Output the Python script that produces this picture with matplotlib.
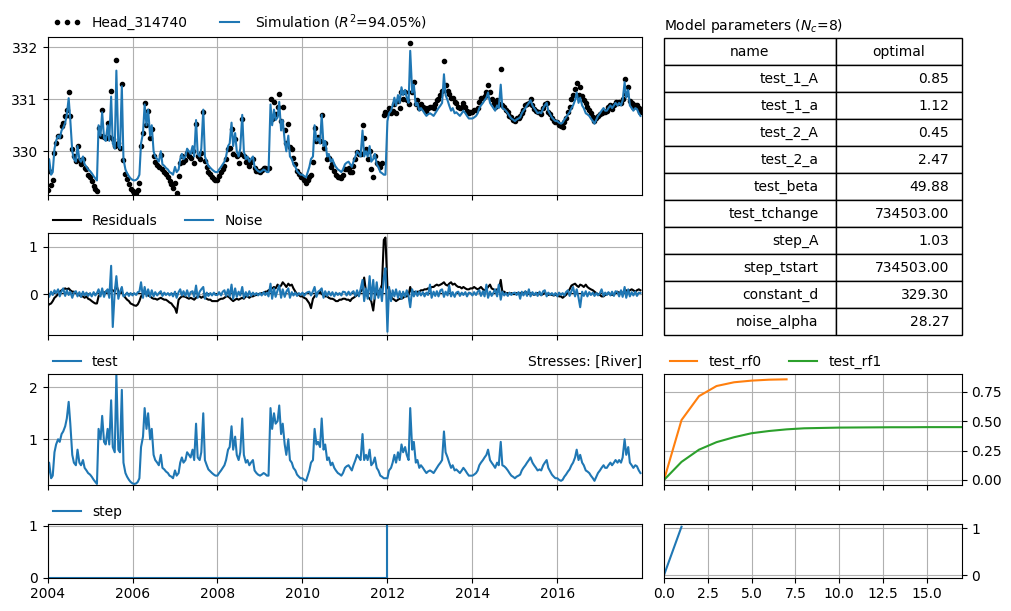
import numpy as np
import pandas as pd
import matplotlib
matplotlib.use("Agg")
import matplotlib.pyplot as plt
import matplotlib.dates as mdates

# half-monthly samples (1st and 15th of each month), 2004 - 2017
dates = pd.date_range("2004-01-01", periods=336, freq="SMS")

# contribution of the "test" stressmodel (River), one row per year
test_contrib = np.array([
    0.20, 0.55, 0.25, 0.30, 0.75, 0.90, 1.00, 0.95, 1.10, 1.15, 1.25, 1.40, 1.72, 1.30, 0.70, 0.55, 0.50, 0.80, 0.55, 0.50, 0.60, 0.45, 0.40, 0.35,
    0.32, 0.28, 0.22, 0.18, 0.14, 1.20, 1.00, 1.45, 0.95, 0.90, 1.20, 0.90, 1.75, 0.85, 0.75, 2.25, 0.80, 0.75, 1.95, 0.55, 0.35, 0.28, 0.22, 0.18,
    0.15, 0.14, 0.15, 0.18, 0.25, 0.85, 1.05, 1.60, 1.20, 1.50, 1.00, 1.20, 0.70, 0.60, 0.55, 0.50, 0.70, 0.45, 0.42, 0.38, 0.35, 0.30, 0.28, 0.25,
    0.40, 0.30, 0.35, 0.55, 0.65, 0.55, 0.60, 0.75, 0.70, 0.65, 0.80, 0.60, 1.30, 0.65, 0.60, 0.75, 1.50, 0.60, 0.50, 0.42, 0.38, 0.35, 0.32, 0.30,
    0.30, 0.35, 0.40, 0.45, 0.50, 0.60, 0.80, 0.85, 1.25, 0.80, 1.05, 0.70, 0.60, 0.75, 1.40, 0.70, 0.55, 0.60, 0.50, 0.55, 0.60, 0.40, 0.35, 0.32,
    0.30, 0.32, 0.35, 0.33, 0.30, 0.30, 1.60, 1.20, 1.50, 1.30, 1.35, 1.65, 1.10, 1.30, 0.90, 0.70, 1.00, 0.60, 0.55, 0.45, 0.40, 0.32, 0.28, 0.25,
    0.25, 0.22, 0.20, 0.30, 0.40, 0.55, 0.60, 1.20, 0.90, 0.95, 0.85, 1.40, 0.80, 0.90, 0.60, 0.65, 0.50, 0.55, 0.45, 0.40, 0.35, 0.33, 0.30, 0.35,
    0.45, 0.48, 0.50, 0.45, 0.40, 0.50, 0.60, 0.70, 0.65, 0.60, 1.10, 0.60, 0.70, 0.60, 0.80, 0.50, 0.55, 0.65, 0.45, 0.40, 0.30, 0.28, 0.25, 0.25,
    0.25, 0.40, 0.45, 0.55, 0.70, 0.55, 0.75, 0.60, 0.90, 0.75, 0.85, 0.70, 0.60, 1.60, 0.80, 0.95, 0.55, 0.60, 0.45, 0.50, 0.45, 0.40, 0.35, 0.38,
    0.40, 0.38, 0.35, 0.40, 0.45, 0.50, 0.55, 0.60, 1.15, 0.75, 0.65, 0.55, 0.45, 0.50, 0.40, 0.42, 0.38, 0.35, 0.40, 0.45, 0.40, 0.35, 0.30, 0.30,
    0.30, 0.32, 0.35, 0.40, 0.50, 0.55, 0.60, 0.65, 0.70, 0.80, 0.60, 0.55, 0.50, 0.45, 0.55, 0.50, 0.95, 0.50, 0.48, 0.45, 0.40, 0.35, 0.30, 0.28,
    0.25, 0.28, 0.30, 0.32, 0.40, 0.45, 0.50, 0.55, 0.60, 0.65, 0.55, 0.50, 0.45, 0.40, 0.42, 0.40, 0.50, 0.55, 0.60, 0.45, 0.38, 0.32, 0.28, 0.25,
    0.25, 0.22, 0.20, 0.22, 0.28, 0.32, 0.38, 0.42, 0.50, 0.55, 0.65, 0.80, 0.60, 0.70, 0.55, 0.50, 0.40, 0.38, 0.35, 0.30, 0.25, 0.20, 0.28, 0.35,
    0.40, 0.45, 0.50, 0.45, 0.45, 0.50, 0.55, 0.50, 0.55, 0.60, 0.55, 0.60, 0.55, 0.65, 1.00, 0.70, 0.85, 0.55, 0.50, 0.45, 0.50, 0.48, 0.40, 0.35,
])

# residuals (observed - simulated), one row per year
residuals = np.array([
    -0.25, -0.22, -0.20, -0.15, -0.08, -0.05, 0.00, 0.05, 0.08, 0.10, 0.12, 0.10, 0.12, 0.08, 0.05, 0.05, 0.02, 0.00, -0.02, -0.05, -0.05, -0.08, -0.05, -0.10,
    -0.12, -0.15, -0.18, -0.20, -0.20, -0.05, 0.00, 0.05, 0.02, 0.05, 0.05, 0.08, 0.10, 0.08, 0.05, 0.20, 0.05, 0.02, 0.05, -0.02, -0.08, -0.12, -0.15, -0.20,
    -0.22, -0.24, -0.25, -0.22, -0.15, -0.05, 0.00, 0.02, 0.00, -0.03, -0.05, -0.08, -0.10, -0.10, -0.12, -0.10, -0.08, -0.10, -0.12, -0.12, -0.15, -0.18, -0.20, -0.25,
    -0.30, -0.40, -0.12, -0.08, -0.05, -0.05, -0.06, -0.08, -0.10, -0.08, -0.10, -0.12, -0.08, -0.05, -0.05, -0.08, -0.05, -0.08, -0.10, -0.12, -0.12, -0.15, -0.15, -0.15,
    -0.15, -0.12, -0.10, -0.10, -0.08, -0.05, -0.05, -0.08, -0.12, -0.15, -0.12, -0.10, -0.12, -0.10, -0.08, -0.10, -0.05, -0.05, -0.08, -0.05, -0.05, -0.03, -0.02, 0.00,
    0.00, 0.02, 0.02, 0.05, 0.05, 0.08, 0.10, 0.12, 0.15, 0.12, 0.20, 0.15, 0.18, 0.25, 0.20, 0.15, 0.22, 0.18, 0.20, 0.12, 0.05, 0.00, -0.02, -0.05,
    -0.05, -0.08, -0.10, -0.15, -0.20, -0.30, -0.10, -0.05, 0.00, 0.02, 0.05, 0.00, -0.03, -0.05, -0.05, -0.08, -0.10, -0.10, -0.12, -0.15, -0.15, -0.12, -0.12, -0.10,
    -0.10, -0.12, -0.12, -0.15, -0.10, -0.08, -0.05, -0.02, 0.00, 0.05, 0.10, 0.35, 0.05, -0.05, -0.10, -0.15, -0.35, -0.05, 0.02, 0.05, 0.10, 0.20, 1.15, 1.20,
    0.15, 0.10, -0.05, -0.10, -0.12, -0.15, -0.12, -0.10, -0.10, -0.08, -0.05, -0.05, -0.02, 0.15, 0.00, 0.05, 0.02, 0.05, 0.05, 0.08, 0.08, 0.10, 0.10, 0.12,
    0.12, 0.15, 0.15, 0.18, 0.20, 0.18, 0.20, 0.22, 0.25, 0.20, 0.18, 0.22, 0.25, 0.20, 0.22, 0.18, 0.15, 0.15, 0.12, 0.15, 0.12, 0.10, 0.10, 0.12,
    0.12, 0.15, 0.12, 0.10, 0.12, 0.15, 0.10, 0.08, 0.10, 0.15, 0.20, 0.12, 0.10, 0.08, 0.10, 0.08, 0.30, 0.05, 0.05, 0.02, 0.02, 0.00, 0.02, 0.00,
    0.00, 0.02, 0.00, 0.02, 0.00, 0.02, 0.05, 0.02, 0.00, 0.02, 0.00, -0.02, 0.00, 0.02, 0.00, -0.02, 0.00, 0.02, 0.00, -0.02, 0.00, -0.02, -0.03, -0.02,
    -0.02, -0.05, -0.05, -0.08, -0.05, -0.02, 0.05, 0.10, 0.18, 0.20, 0.22, 0.18, 0.15, 0.20, 0.18, 0.15, 0.20, 0.15, 0.12, 0.10, 0.08, 0.05, 0.02, 0.00,
    -0.02, -0.05, -0.05, -0.02, 0.00, 0.02, 0.00, -0.02, 0.00, 0.02, 0.05, 0.02, 0.05, 0.02, 0.05, 0.08, 0.05, 0.08, 0.10, 0.08, 0.05, 0.08, 0.10, 0.08,
])

# noise model output, one row per year
noise = np.array([
    0.03, -0.06, 0.05, -0.02, 0.08, 0.02, 0.10, -0.05, 0.06, 0.12, -0.04, 0.08, -0.02, 0.05, -0.08, 0.03, 0.06, -0.05, 0.04, -0.06, 0.05, -0.03, 0.03, -0.04,
    0.02, -0.05, 0.04, -0.03, 0.02, 0.10, -0.05, 0.12, -0.06, 0.05, 0.10, -0.08, 0.60, -0.70, 0.05, 0.38, -0.10, 0.05, 0.15, -0.05, -0.02, 0.03, -0.04, 0.02,
    -0.03, 0.02, -0.02, 0.04, 0.05, 0.25, -0.08, 0.15, -0.05, 0.10, -0.06, 0.08, -0.05, 0.04, -0.03, 0.02, 0.06, -0.04, 0.03, -0.02, 0.02, -0.03, 0.02, -0.05,
    0.05, -0.08, 0.04, 0.10, -0.03, 0.06, -0.04, 0.08, -0.05, 0.04, 0.06, -0.06, 0.18, -0.08, 0.05, 0.10, 0.15, -0.10, 0.03, -0.04, 0.02, -0.03, 0.03, -0.02,
    -0.02, 0.04, -0.03, 0.05, 0.08, -0.04, 0.10, -0.05, 0.20, -0.10, 0.12, -0.06, 0.05, -0.03, 0.15, -0.08, 0.04, -0.05, 0.06, -0.04, 0.03, -0.02, 0.02, -0.03,
    0.02, -0.03, 0.04, -0.02, 0.03, -0.05, 0.22, -0.10, 0.12, -0.06, 0.08, 0.18, -0.08, 0.10, -0.06, 0.05, 0.12, -0.08, 0.04, -0.03, 0.03, -0.04, 0.02, -0.02,
    0.03, -0.04, 0.02, 0.04, 0.05, -0.03, 0.06, 0.15, -0.06, 0.05, 0.08, 0.12, -0.08, 0.06, -0.04, 0.05, -0.03, 0.04, -0.05, 0.03, -0.02, 0.02, -0.03, 0.05,
    0.04, -0.03, 0.05, -0.02, 0.03, 0.06, -0.04, 0.08, -0.05, 0.10, 0.30, -0.15, 0.12, -0.10, 0.38, -0.12, 0.30, -0.10, 0.25, -0.08, 0.12, -0.15, 0.35, 0.55,
    -0.80, 0.15, -0.15, 0.08, -0.05, 0.10, -0.08, 0.06, -0.10, 0.05, -0.06, 0.08, -0.05, -0.28, 0.10, -0.05, 0.06, -0.04, 0.05, -0.03, 0.04, -0.05, 0.03, -0.02,
    0.20, -0.08, 0.05, -0.04, 0.06, -0.05, 0.08, 0.10, -0.06, 0.05, -0.03, 0.18, -0.05, 0.04, -0.06, 0.03, 0.05, -0.04, 0.03, -0.02, 0.04, -0.05, 0.03, 0.02,
    -0.03, 0.04, -0.02, 0.05, 0.08, -0.04, 0.06, -0.05, 0.20, -0.08, 0.05, -0.04, 0.03, 0.10, -0.05, 0.20, -0.12, 0.05, -0.03, 0.02, -0.04, 0.03, -0.02, 0.02,
    0.03, -0.02, 0.04, -0.10, 0.05, -0.03, 0.06, -0.04, 0.10, -0.05, 0.04, -0.02, 0.03, -0.04, 0.05, -0.03, 0.06, 0.08, -0.05, 0.03, -0.02, 0.02, -0.03, 0.02,
    -0.05, 0.03, -0.02, 0.02, -0.03, 0.04, 0.08, -0.04, 0.06, 0.15, -0.05, 0.10, -0.08, -0.28, 0.05, -0.04, 0.06, -0.05, 0.04, -0.02, 0.03, -0.04, 0.02, -0.03,
    0.02, 0.10, -0.04, 0.03, -0.02, 0.04, -0.03, 0.05, -0.04, 0.06, 0.04, -0.05, 0.08, -0.06, 0.15, -0.08, 0.10, -0.05, 0.04, -0.03, 0.05, -0.04, 0.03, 0.02,
])

# model parameters
param_names = ["test_1_A", "test_1_a", "test_2_A", "test_2_a", "test_beta",
               "test_tchange", "step_A", "step_tstart", "constant_d", "noise_alpha"]
param_values = [0.85, 1.12, 0.45, 2.47, 49.88, 734503.00, 1.03, 734503.00, 329.30, 28.27]
constant_d = 329.30
step_A = 1.03
step_tstart = pd.Timestamp("2012-01-01")

# step contribution
step_dates = pd.to_datetime(["2004-01-01", "2012-01-01", "2012-01-01", "2017-12-31"])
step_values = [0.0, 0.0, 1.03, 1.03]

# step responses
rf0_t = [0, 1, 2, 3, 4, 5, 6, 7]
rf0 = [0.0, 0.51, 0.714, 0.80, 0.832, 0.846, 0.854, 0.857]
rf1_t = list(range(18))
rf1 = [0.0, 0.154, 0.258, 0.322, 0.364, 0.398, 0.417, 0.431, 0.440, 0.443,
       0.446, 0.447, 0.448, 0.449, 0.449, 0.450, 0.450, 0.450]
step_rf_t = [0, 1]
step_rf = [0.0, 1.03]

# simulation = constant + contributions, observations = simulation + residuals
sim = constant_d + test_contrib + np.where(dates >= step_tstart, step_A, 0.0)
obs = sim + residuals

W, H = 1011, 611
fig = plt.figure(figsize=(W / 100, H / 100), dpi=100)


def px_axes(x0, y0, x1, y1, **kw):
    return fig.add_axes([x0 / W, 1 - y1 / H, (x1 - x0) / W, (y1 - y0) / H], **kw)


ax1 = px_axes(47.5, 37.3, 642.3, 195)
ax2 = px_axes(47.5, 233.3, 642.3, 335, sharex=ax1)
ax3 = px_axes(47.5, 374.3, 642.3, 485, sharex=ax1)
ax4 = px_axes(47.5, 524.3, 642.3, 577.5, sharex=ax1)
axt = px_axes(664, 38.3, 961.7, 335)
axr = px_axes(664, 374.3, 961.7, 485)
axs = px_axes(664, 524.3, 961.7, 577.5, sharex=axr)

# observations and simulation
ax1.plot(dates, obs, linestyle="", marker=".", color="k", label="Head_314740")
ax1.plot(dates, sim, color="C0", label="Simulation ($R^2$=94.05%)")
ax1.set_ylim(329.16, 332.19)
ax1.set_yticks([330, 331, 332])
ax1.legend(loc=(0, 1), ncol=3, frameon=False, numpoints=3)

# residuals and noise
ax2.plot(dates, residuals, color="k", label="Residuals")
ax2.plot(dates, noise, color="C0", label="Noise")
ax2.axhline(0.0, color="k", linestyle="--", zorder=0)
ax2.set_ylim(-0.87, 1.29)
ax2.set_yticks([0, 1])
ax2.legend(loc=(0, 1), ncol=3, frameon=False)

# stress contribution
ax3.plot(dates, test_contrib, color="C0", label="test")
ax3.set_ylim(0.12, 2.25)
ax3.set_yticks([1, 2])
ax3.set_title("Stresses: [River]", loc="right", fontsize=10)
ax3.legend(loc=(0, 1), ncol=3, frameon=False)

# step contribution
ax4.plot(step_dates, step_values, color="C0", label="step")
ax4.set_ylim(0, 1.03)
ax4.set_yticks([0, 1])
ax4.legend(loc=(0, 1), ncol=3, frameon=False)

ax1.set_xlim(pd.Timestamp("2004-01-01"), pd.Timestamp("2017-12-31"))
ax4.xaxis.set_major_locator(mdates.YearLocator(2))
ax4.xaxis.set_major_formatter(mdates.DateFormatter("%Y"))
for ax in [ax1, ax2, ax3]:
    ax.tick_params(labelbottom=False)

# responses
axr.plot(rf0_t, rf0, color="C1", label="test_rf0")
axr.plot(rf1_t, rf1, color="C2", label="test_rf1")
axr.legend(loc=(0, 1), ncol=3, frameon=False)
axr.set_yticks([0.0, 0.25, 0.5, 0.75])
axs.plot(step_rf_t, step_rf, color="C0")
axs.set_yticks([0, 1])
axs.set_xlim(0, 17)
axs.set_xticks(np.arange(0, 17, 2.5))
axr.tick_params(labelbottom=False)
for ax in [axr, axs]:
    ax.yaxis.tick_right()
    ax.yaxis.set_label_position("right")

for ax in [ax1, ax2, ax3, ax4, axr, axs]:
    ax.grid(True)

# parameter table
axt.axis("off")
cells = [[n, "%.2f" % v] for n, v in zip(param_names, param_values)]
table = axt.table(cellText=cells, colLabels=["name", "optimal"], cellLoc="right",
                  colWidths=[0.577, 0.423], bbox=(0.0, 0.0, 1.0, 1.0))
table.auto_set_font_size(False)
table.set_fontsize(10)
axt.set_title("Model parameters ($N_c$=8)", loc="left", fontsize=10)

fig.savefig("out.png", dpi=100)
